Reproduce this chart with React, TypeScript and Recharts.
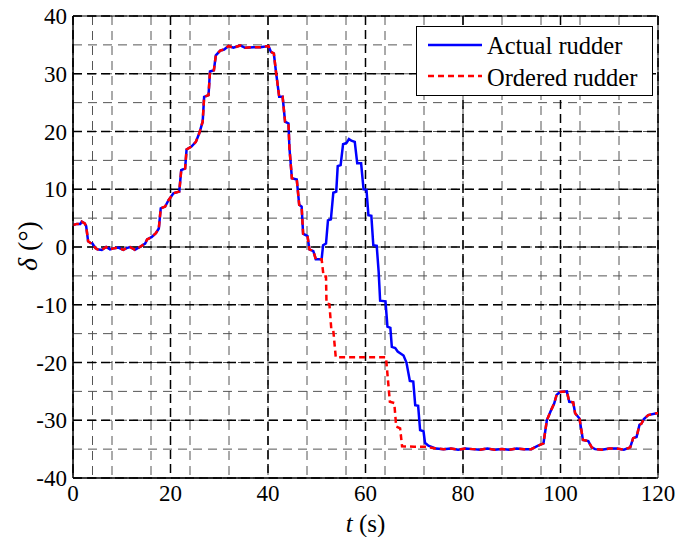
import React from "react";
import {
  LineChart,
  Line,
  XAxis,
  YAxis,
  CartesianGrid,
  ReferenceArea,
  Legend,
} from "recharts";

// [t (s), delta (deg)]
const sharedHead: [number, number][] = [
  [0, 3.8], [0.8, 4.0], [1.5, 4.0], [1.8, 4.4], [2.4, 4.1], [2.7, 3.6],
  [3.1, 1.0], [3.6, 0.7], [4.0, 0.6], [4.6, -0.2], [5.0, -0.4], [5.9, -0.5],
  [6.8, 0.0], [7.6, -0.4], [8.5, -0.2], [9.3, -0.1], [10.3, -0.5], [11.0, -0.2],
  [11.7, 0.0], [12.7, -0.5], [13.7, 0.0], [14.8, 0.6], [15.2, 1.3], [16.1, 1.7],
  [17.0, 2.4], [17.6, 3.2], [18.0, 6.7], [18.9, 7.0], [19.6, 8.1], [20.6, 9.3],
  [21.8, 9.6], [22.2, 13.3], [23.0, 13.6], [23.3, 16.9], [24.3, 17.4], [25.2, 18.2],
  [25.9, 19.7], [26.6, 21.7], [26.9, 26.0], [27.8, 26.3], [28.1, 30.4], [28.9, 30.6],
  [29.3, 33.2], [30.2, 34.0], [31.0, 34.2], [31.9, 34.8], [32.9, 34.5], [34.3, 34.9],
  [35.3, 34.5], [37.0, 34.6], [38.5, 34.6], [39.4, 34.7], [40.1, 34.8], [40.6, 33.8],
  [41.2, 33.5], [41.6, 30.6], [42.3, 26.0], [43.0, 26.0], [43.5, 21.7], [44.2, 21.4],
  [44.4, 17.1], [44.9, 11.9], [45.9, 11.7], [46.4, 7.3], [46.9, 7.0], [47.2, 2.3],
  [48.1, 1.9], [48.5, -0.4], [49.3, -0.7], [49.8, -2.1], [51.0, -2.1],
];

const actualMid: [number, number][] = [
  [51.3, 0.3], [51.9, 0.6], [52.3, 4.6], [52.9, 4.8], [53.4, 9.4], [54.0, 9.6],
  [54.3, 14.0], [54.9, 14.2], [55.4, 17.8], [56.1, 18.0], [56.6, 18.7], [57.1, 18.4],
  [57.8, 18.2], [58.3, 14.5], [59.1, 14.5], [59.6, 10.0], [60.2, 9.9], [60.6, 5.5],
  [61.2, 5.4], [61.6, 0.3], [62.3, 0.2], [62.7, -4.3], [63.0, -9.3], [64.1, -9.4],
  [64.5, -13.8], [65.1, -14.0], [65.4, -17.3], [66.1, -17.5], [66.6, -18.1], [67.8, -18.8],
  [68.4, -20.0], [69.1, -23.2], [69.8, -23.3], [70.2, -27.4], [70.8, -27.5], [71.2, -31.7],
  [71.9, -31.9], [72.2, -33.9], [72.9, -34.4], [74.5, -34.9],
];

const orderedMid: [number, number][] = [
  [51.4, -5.1], [51.9, -5.1], [52.0, -9.8], [52.6, -9.9], [53.0, -14.4], [53.4, -14.5],
  [53.9, -19.1], [64.2, -19.1], [65.0, -26.8], [65.9, -27.0], [66.3, -31.1], [67.1, -31.4],
  [67.5, -34.5], [70.0, -34.6], [72.2, -34.6], [73.2, -34.7], [74.5, -34.9],
];

const sharedTail: [number, number][] = [
  [76.0, -35.0], [77.5, -34.9], [79.0, -35.1], [80.5, -34.9], [82.0, -35.0], [83.5, -35.1],
  [85.0, -34.9], [86.5, -35.1], [88.0, -35.0], [89.5, -35.1], [91.0, -34.9], [92.5, -35.0],
  [94.0, -35.0], [95.4, -34.4], [96.5, -34.0], [97.2, -30.0], [98.1, -28.2], [98.7, -27.1],
  [99.2, -25.6], [99.9, -25.1], [101.3, -25.0], [101.8, -26.8], [102.6, -26.9], [103.0, -28.8],
  [103.9, -29.7], [104.6, -33.4], [105.7, -33.6], [106.4, -34.7], [107.1, -35.0], [108.5, -35.1],
  [110.0, -34.9], [111.5, -34.9], [113.0, -35.1], [114.3, -34.7], [114.9, -33.1], [115.6, -32.9],
  [116.2, -30.8], [116.6, -30.6], [117.1, -29.8], [118.0, -29.1], [119.7, -28.8], [120, -28.8],
];

const xTicks = [0, 20, 40, 60, 80, 100, 120];
const yTicks = [-40, -30, -20, -10, 0, 10, 20, 30, 40];
const xMinor = [0, 4, 8, 12, 16, 20, 24, 28, 32, 36, 40, 44, 48, 52, 56, 60, 64, 68, 72, 76, 80, 84, 88, 92, 96, 100, 104, 108, 112, 116, 120];
const yMinor = [-40, -35, -30, -25, -20, -15, -10, -5, 0, 5, 10, 15, 20, 25, 30, 35, 40];

const toPoints = (rows: [number, number][]) => rows.map(([t, v]) => ({ t, v }));
const actual = toPoints([...sharedHead, ...actualMid, ...sharedTail]);
const ordered = toPoints([...sharedHead, ...orderedMid, ...sharedTail]);

const FONT = "'Liberation Serif', 'Times New Roman', serif";
const axisTick = { fill: "#000", fontSize: 23, fontFamily: FONT };

function XLabel(props: any) {
  const vb = props.viewBox || { x: 73, y: 478, width: 585 };
  return (
    <text
      x={vb.x + vb.width / 2}
      y={vb.y + 54}
      textAnchor="middle"
      fontFamily={FONT}
      fontSize={25}
      fill="#000"
    >
      <tspan fontStyle="italic">t</tspan>
      <tspan> (s)</tspan>
    </text>
  );
}

function YLabel(props: any) {
  const vb = props.viewBox || { x: 13, y: 16, width: 60, height: 462 };
  const cx = 37;
  const cy = vb.y + vb.height / 2 - 1;
  return (
    <text
      x={cx}
      y={cy}
      transform={`rotate(-90 ${cx} ${cy})`}
      textAnchor="middle"
      fontFamily={FONT}
      fontSize={28}
      fill="#000"
    >
      <tspan fontStyle="italic">δ</tspan>
      <tspan> (°)</tspan>
    </text>
  );
}

function RudderLegend() {
  return (
    <svg width={237} height={70} style={{ display: "block" }}>
      <rect x={0.5} y={0.5} width={236} height={69} fill="#fff" stroke="#000" />
      <line x1={12} x2={66} y1={19} y2={19} stroke="#0000ff" strokeWidth={2.5} />
      <text x={71} y={28} fontFamily={FONT} fontSize={24.5} fill="#000">
        Actual rudder
      </text>
      <line x1={12} x2={66} y1={50} y2={50} stroke="#ff0000" strokeWidth={2.5} strokeDasharray="6 4" />
      <text x={71} y={60} fontFamily={FONT} fontSize={24.5} fill="#000">
        Ordered rudder
      </text>
    </svg>
  );
}

export default function App() {
  return (
    <div style={{ position: "absolute", left: 0, top: 0, width: 680, height: 537, background: "#fff" }}>
      <LineChart
        width={680}
        height={537}
        margin={{ top: 16, right: 22, bottom: 29, left: 13 }}
      >
        <CartesianGrid
          stroke="#555"
          strokeDasharray="9 6"
          horizontalValues={yMinor}
          verticalValues={xMinor}
        />
        <CartesianGrid
          stroke="#000"
          strokeWidth={1.5}
          strokeDasharray="9 5"
          horizontalValues={yTicks}
          verticalValues={xTicks}
        />
        <XAxis
          type="number"
          dataKey="t"
          domain={[0, 120]}
          ticks={xTicks}
          allowDataOverflow
          height={30}
          tickLine={false}
          tickSize={0}
          tickMargin={7}
          axisLine={{ stroke: "#000", strokeWidth: 1 }}
          tick={axisTick}
          label={<XLabel />}
        />
        <YAxis
          type="number"
          dataKey="v"
          domain={[-40, 40]}
          ticks={yTicks}
          allowDataOverflow
          width={60}
          tickLine={false}
          tickSize={0}
          tickMargin={6}
          axisLine={{ stroke: "#000", strokeWidth: 1 }}
          tick={axisTick}
          label={<YLabel />}
        />
        <ReferenceArea x1={0} x2={120} y1={-40} y2={40} fill="none" stroke="#000" strokeWidth={1} />
        <Line
          data={actual}
          dataKey="v"
          type="linear"
          stroke="#0000ff"
          strokeWidth={2.5}
          dot={false}
          isAnimationActive={false}
        />
        <Line
          data={ordered}
          dataKey="v"
          type="linear"
          stroke="#ff0000"
          strokeWidth={2.5}
          strokeDasharray="6 4"
          dot={false}
          isAnimationActive={false}
        />
        <Legend
          layout="vertical"
          align="center"
          verticalAlign="middle"
          content={<RudderLegend />}
          wrapperStyle={{ left: 416, top: 26, width: 237, height: 70, bottom: "auto", right: "auto" }}
        />
      </LineChart>
    </div>
  );
}
